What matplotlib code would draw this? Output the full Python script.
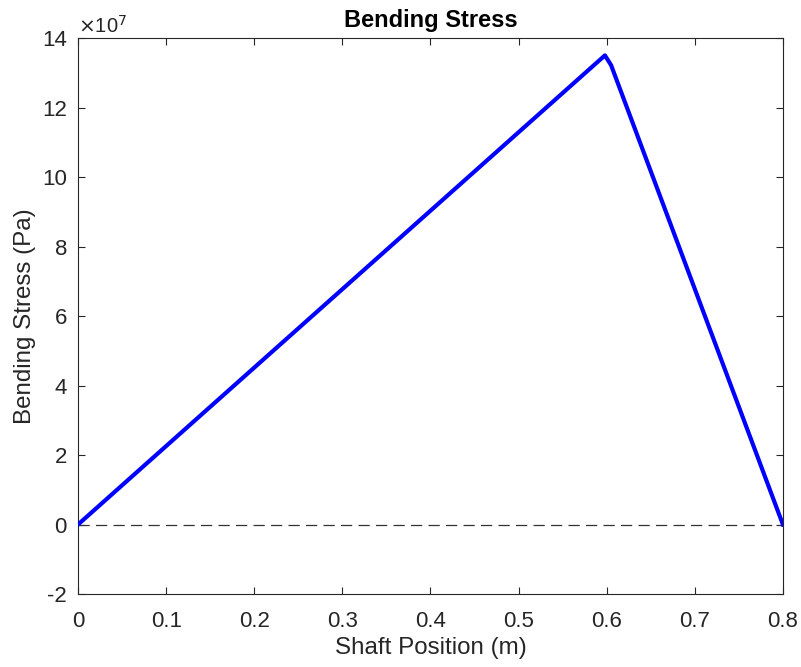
import numpy as np
import matplotlib.pyplot as plt
from matplotlib.ticker import FuncFormatter

plt.rcParams['font.family'] = ['Liberation Sans', 'DejaVu Sans']

# shaft position (m) and bending stress (Pa)
position = [0.0, 0.598, 0.605, 0.8]
stress = [0.0, 13.5e7, 13.22e7, 0.0]

x_ticks = [0, 0.1, 0.2, 0.3, 0.4, 0.5, 0.6, 0.7, 0.8]
y_ticks = [-2e7, 0, 2e7, 4e7, 6e7, 8e7, 10e7, 12e7, 14e7]

grey = "#262626"

fig = plt.figure(figsize=(8.01, 6.67), dpi=100)
ax = fig.add_axes([0.0974, 0.1094, 0.88, 0.8336])

ax.plot(position, stress, color=(0, 0, 1), linewidth=3, solid_joinstyle="round", zorder=3)
ax.axhline(0, color="#333333", linestyle=(0, (9, 5)), linewidth=0.9, zorder=2)

ax.set_xlim(0, 0.8)
ax.set_ylim(-2e7, 14e7)
ax.set_xticks(x_ticks)
ax.set_yticks(y_ticks)
ax.xaxis.set_major_formatter(FuncFormatter(lambda v, p: f"{v:g}"))
ax.yaxis.set_major_formatter(FuncFormatter(lambda v, p: f"{v / 1e7:g}"))

ax.tick_params(direction="in", length=5, width=0.8, colors=grey, labelsize=16,
               top=True, right=True)
ax.tick_params(axis="x", pad=12)
ax.tick_params(axis="y", pad=8)
for s in ax.spines.values():
    s.set_color(grey)
    s.set_linewidth(0.8)

# exponent shown above the y axis, MATLAB style
ax.text(0.0, 1.009, r"$\times$10$^{7}$", transform=ax.transAxes, fontsize=14.5,
        color=grey, ha="left", va="baseline")

ax.set_title("Bending Stress", fontsize=17, fontweight="bold", color="black", pad=8)
ax.set_xlabel("Shaft Position (m)", fontsize=17.4, color=grey, labelpad=4)
ax.set_ylabel("Bending Stress (Pa)", fontsize=17.4, color=grey, labelpad=4)

fig.savefig("out.png", dpi=100)
